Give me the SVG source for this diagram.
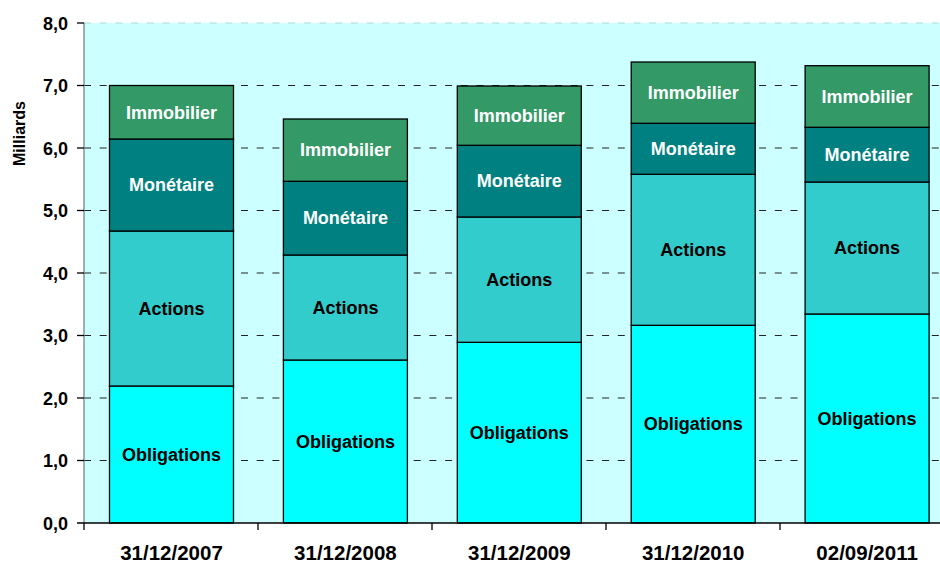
<svg xmlns="http://www.w3.org/2000/svg" width="940" height="563" viewBox="0 0 940 563">
<style>
text{font-family:"Liberation Sans",Arial,sans-serif;font-weight:bold}
.seg{stroke:#000;stroke-width:1.3}
.obl{fill:#00FFFF}.act{fill:#33CCCC}.mon{fill:#008080}.imm{fill:#339966}
.lw{fill:#fff;font-size:18px;text-anchor:middle}
.lb{fill:#000;font-size:18px;text-anchor:middle}
.grid{stroke:#222;stroke-width:1;stroke-dasharray:7 8.7}
.ytick{font-size:18px;text-anchor:end;fill:#000}
.xlab{font-size:20.5px;text-anchor:middle;fill:#000}
</style>
<rect x="0" y="0" width="940" height="563" fill="#fff"/>
<rect x="84" y="23" width="856" height="500" fill="#CCFFFF"/>
<g id="grid">
<line x1="84" y1="23" x2="940" y2="23" stroke="#a8dcdc" stroke-width="1" stroke-dasharray="7 8.7"/>
<line class="grid" x1="84" y1="85.5" x2="940" y2="85.5"/>
<line class="grid" x1="84" y1="148" x2="940" y2="148"/>
<line class="grid" x1="84" y1="210.5" x2="940" y2="210.5"/>
<line class="grid" x1="84" y1="273" x2="940" y2="273"/>
<line class="grid" x1="84" y1="335.5" x2="940" y2="335.5"/>
<line class="grid" x1="84" y1="398" x2="940" y2="398"/>
<line class="grid" x1="84" y1="460.5" x2="940" y2="460.5"/>
</g>
<g id="bar-2007">
<rect class="seg obl" x="109.5" y="386" width="124" height="137"/>
<rect class="seg act" x="109.5" y="231" width="124" height="155"/>
<rect class="seg mon" x="109.5" y="139" width="124" height="92"/>
<rect class="seg imm" x="109.5" y="85.5" width="124" height="53.5"/>
<text class="lw" x="171.5" y="118.5">Immobilier</text>
<text class="lw" x="171.5" y="191">Monétaire</text>
<text class="lb" x="171.5" y="314.5">Actions</text>
<text class="lb" x="171.5" y="460.5">Obligations</text>
</g>
<g id="bar-2008">
<rect class="seg obl" x="283.4" y="360" width="124" height="163"/>
<rect class="seg act" x="283.4" y="255" width="124" height="105"/>
<rect class="seg mon" x="283.4" y="181.3" width="124" height="73.7"/>
<rect class="seg imm" x="283.4" y="119" width="124" height="62.3"/>
<text class="lw" x="345.4" y="156.3">Immobilier</text>
<text class="lw" x="345.4" y="224">Monétaire</text>
<text class="lb" x="345.4" y="313.5">Actions</text>
<text class="lb" x="345.4" y="447.5">Obligations</text>
</g>
<g id="bar-2009">
<rect class="seg obl" x="457.3" y="342.3" width="124" height="180.7"/>
<rect class="seg act" x="457.3" y="217" width="124" height="125.3"/>
<rect class="seg mon" x="457.3" y="145.3" width="124" height="71.7"/>
<rect class="seg imm" x="457.3" y="86" width="124" height="59.3"/>
<text class="lw" x="519.3" y="122">Immobilier</text>
<text class="lw" x="519.3" y="187">Monétaire</text>
<text class="lb" x="519.3" y="286">Actions</text>
<text class="lb" x="519.3" y="439">Obligations</text>
</g>
<g id="bar-2010">
<rect class="seg obl" x="631.2" y="325.3" width="124" height="197.7"/>
<rect class="seg act" x="631.2" y="174.3" width="124" height="151"/>
<rect class="seg mon" x="631.2" y="123.3" width="124" height="51"/>
<rect class="seg imm" x="631.2" y="62" width="124" height="61.3"/>
<text class="lw" x="693.2" y="99">Immobilier</text>
<text class="lw" x="693.2" y="155">Monétaire</text>
<text class="lb" x="693.2" y="256">Actions</text>
<text class="lb" x="693.2" y="430.3">Obligations</text>
</g>
<g id="bar-2011">
<rect class="seg obl" x="805.1" y="314" width="124" height="209"/>
<rect class="seg act" x="805.1" y="182" width="124" height="132"/>
<rect class="seg mon" x="805.1" y="127.3" width="124" height="54.7"/>
<rect class="seg imm" x="805.1" y="65.7" width="124" height="61.6"/>
<text class="lw" x="867.1" y="102.8">Immobilier</text>
<text class="lw" x="867.1" y="161">Monétaire</text>
<text class="lb" x="867.1" y="254.3">Actions</text>
<text class="lb" x="867.1" y="424.8">Obligations</text>
</g>
<g id="axes" stroke-width="1.3">
<line x1="84" y1="23" x2="84" y2="523" stroke="#808080"/>
<line x1="77" y1="523" x2="940" y2="523" stroke="#000"/>
<g stroke="#000">
<line x1="77" y1="23" x2="84" y2="23"/>
<line x1="77" y1="85.5" x2="84" y2="85.5"/>
<line x1="77" y1="148" x2="84" y2="148"/>
<line x1="77" y1="210.5" x2="84" y2="210.5"/>
<line x1="77" y1="273" x2="84" y2="273"/>
<line x1="77" y1="335.5" x2="84" y2="335.5"/>
<line x1="77" y1="398" x2="84" y2="398"/>
<line x1="77" y1="460.5" x2="84" y2="460.5"/>
<line x1="84" y1="523" x2="84" y2="530"/>
<line x1="258" y1="523" x2="258" y2="530"/>
<line x1="432" y1="523" x2="432" y2="530"/>
<line x1="606" y1="523" x2="606" y2="530"/>
<line x1="780" y1="523" x2="780" y2="530"/>
</g>
</g>
<g id="y-labels">
<text class="ytick" x="68" y="29.5">8,0</text>
<text class="ytick" x="68" y="92">7,0</text>
<text class="ytick" x="68" y="154.5">6,0</text>
<text class="ytick" x="68" y="217">5,0</text>
<text class="ytick" x="68" y="279.5">4,0</text>
<text class="ytick" x="68" y="342">3,0</text>
<text class="ytick" x="68" y="404.5">2,0</text>
<text class="ytick" x="68" y="467">1,0</text>
<text class="ytick" x="68" y="529.5">0,0</text>
<text x="24.5" y="133.5" font-size="16" text-anchor="middle" transform="rotate(-90 24.5 133.5)">Milliards</text>
</g>
<g id="x-labels">
<text class="xlab" x="171.5" y="560">31/12/2007</text>
<text class="xlab" x="345.4" y="560">31/12/2008</text>
<text class="xlab" x="519.3" y="560">31/12/2009</text>
<text class="xlab" x="693.2" y="560">31/12/2010</text>
<text class="xlab" x="867.1" y="560">02/09/2011</text>
</g>
</svg>
